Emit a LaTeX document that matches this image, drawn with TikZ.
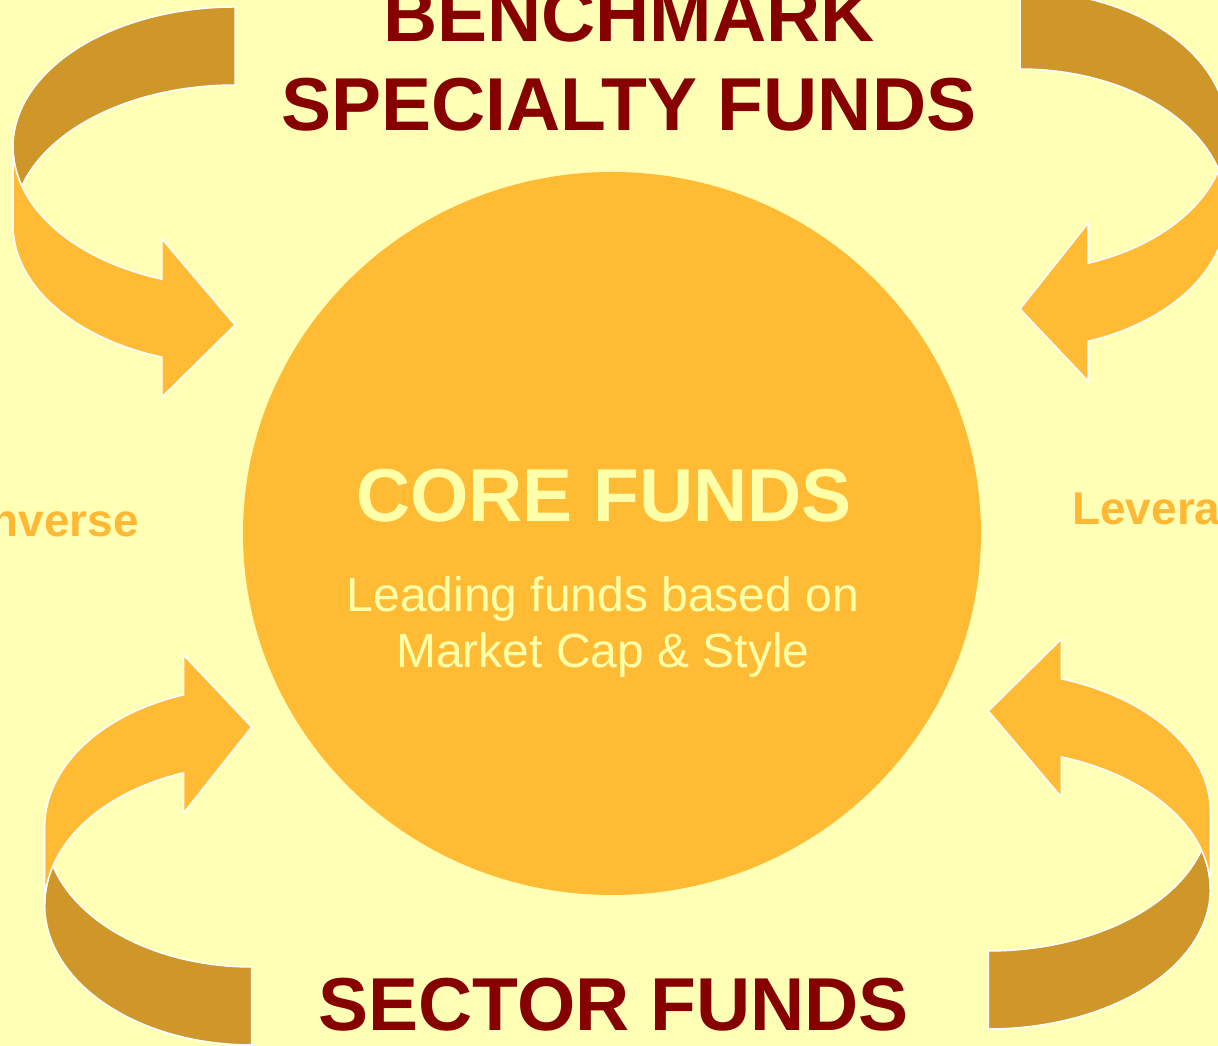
\documentclass[tikz,border=0pt]{standalone}
\usepackage{fontspec}
\setmainfont{Liberation Sans}

\definecolor{paper}{RGB}{255,255,181}
\definecolor{gold}{RGB}{255,187,51}
\definecolor{ochre}{RGB}{207,151,41}
\definecolor{maroon}{RGB}{134,0,0}
\definecolor{cream}{RGB}{255,255,170}
\definecolor{amber}{RGB}{255,184,51}

% Curved band arrow in its own frame: the band starts at the origin,
% bends back through x = -#1 and ends in a head pointing at x = 0.
% #1 is the horizontal radius of the bend (in pt).
\newcommand\bandarrow[1]{%
  % back part of the band
  \fill[backband] (0,0)
    arc[start angle=270, end angle=163.82, x radius=#1pt, y radius=140pt]
    arc[start angle=196.18, end angle=270, x radius=#1pt, y radius=140pt]
    -- cycle;
  % front part of the band with the head
  \fill[frontband] (-#1,140) -- (-#1,218)
    arc[start angle=180, end angle=109.21, x radius=#1pt, y radius=140pt]
    -- ({-0.329*#1},390) -- (0,318) -- ({-0.329*#1},232)
    -- ({-0.329*#1},272.2)
    arc[start angle=109.21, end angle=180, x radius=#1pt, y radius=140pt]
    -- cycle;
}

\tikzset{
  backband/.style={ochre, draw=white, line width=1.5pt, line join=miter},
  frontband/.style={gold, draw=white, line width=1.5pt, line join=miter},
  title/.style={font=\fontsize{75}{90}\selectfont\bfseries, text=maroon, inner sep=0pt},
  coretitle/.style={font=\fontsize{75}{90}\selectfont\bfseries, text=cream, inner sep=0pt},
  coretext/.style={font=\fontsize{48}{56}\selectfont, text=cream, inner sep=0pt},
  sidelabel/.style={font=\fontsize{46}{55}\selectfont\bfseries, text=amber, inner sep=0pt},
}

\begin{document}
\begin{tikzpicture}[x=1pt, y=1pt]
  \useasboundingbox (0,0) rectangle (1218,1046);
  \clip (0,0) rectangle (1218,1046);
  \fill[paper] (0,0) rectangle (1218,1046);

  % central disc
  \fill[gold] (612,512.5) ellipse[x radius=369pt, y radius=361.5pt];

  % four curved arrows around the disc
  \begin{scope}[shift={(235,1039)}, yscale=-1]
    \bandarrow{222}
  \end{scope}
  \begin{scope}[shift={(1020,1055)}, xscale=-1, yscale=-1]
    \bandarrow{207}
  \end{scope}
  \begin{scope}[shift={(251.7,1)}]
    \bandarrow{207}
  \end{scope}
  \begin{scope}[shift={(988.3,17)}, xscale=-1]
    \bandarrow{222}
  \end{scope}

  % headings
  \node[title, anchor=base] (benchmark) at (629,1004) {BENCHMARK};
  \node[title, anchor=base] (specialty) at (629,915) {SPECIALTY FUNDS};
  \node[title, anchor=base] (sector) at (613.5,15) {SECTOR FUNDS};

  % disc text
  \node[coretitle, anchor=base] (core) at (604,524) {CORE FUNDS};
  \node[coretext, anchor=base] (lead1) at (603,434) {Leading funds based on};
  \node[coretext, anchor=base] (lead2) at (603,378) {Market Cap \& Style};

  % side labels
  \node[sidelabel, anchor=base east] (inverse) at (139,509) {Inverse};
  \node[sidelabel, anchor=base west] (leveraged) at (1072,521) {Leveraged};
\end{tikzpicture}
\end{document}
